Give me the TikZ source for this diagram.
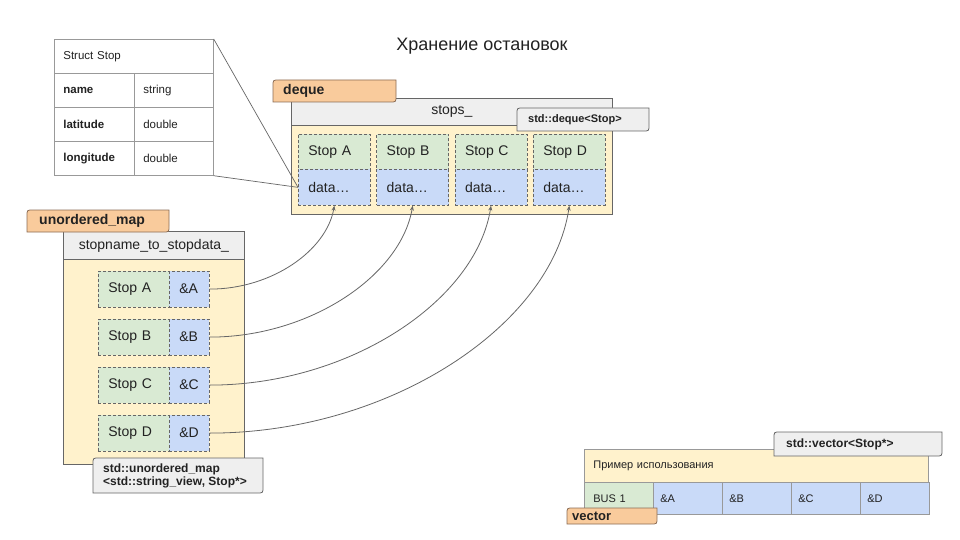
\documentclass[tikz,border=0pt]{standalone}
\usepackage{fontspec}
\setmainfont{Liberation Sans}
\usetikzlibrary{arrows.meta,calc}
\definecolor{cOrange}{HTML}{F9CB9C}
\definecolor{cOrangeB}{HTML}{8C6D55}
\definecolor{cGray}{HTML}{EFEFEF}
\definecolor{cYellow}{HTML}{FFF2CC}
\definecolor{cGreen}{HTML}{D9EAD3}
\definecolor{cBlue}{HTML}{C9DAF8}
\definecolor{cLine}{HTML}{666666}
\definecolor{cLight}{HTML}{999999}
\definecolor{cText}{HTML}{222222}
\newcommand\fsz[1]{\fontsize{#1}{#1}\selectfont}
\newcommand\dlabel[8]{%
  \path[#6] (#2,#5) -- (#2,#3+6) .. controls (#2,#3) .. (#2+6,#3) -- (#4,#3) -- (#4,#5-6) .. controls (#4,#5) .. (#4-6,#5) -- cycle;
  \node[anchor=west, inner sep=0pt, text=cText, #7] (#1) at (#2, {(#3+#5)/2}) {#8};
}
\tikzset{
  box/.style={anchor=north west, inner ysep=0pt, text=cText},
  lcell/.style={box, inner xsep=10pt, align=left},
  dashcell/.style={draw=cLine, line width=0.7pt, dash pattern=on 3pt off 2pt},
  tcell/.style={box, draw=cLight, line width=0.7pt, inner xsep=9pt, align=left, font=\fsz{11.5}},
  vcell/.style={box, draw=cLight, line width=0.7pt, align=left, font=\fsz{11}},
  orangelbl/.style={fill=cOrange, draw=cOrangeB, line width=0.8pt},
  graylbl/.style={fill=cGray, draw=cLine, line width=0.8pt},
  conn/.style={draw=cLine, line width=0.8pt, -{Stealth[length=5pt,width=4pt]}},
}
\begin{document}
\begin{tikzpicture}[x=1pt,y=-1pt]
\useasboundingbox[fill=white] (0,0) rectangle (960,540);

% title
\node[text=cText, font=\fsz{18}] (title) at (482,46) {Хранение остановок};

% ---------- deque ----------
\node[box, draw=cLine, fill=cGray, line width=0.8pt, minimum width=321pt, minimum height=27pt, inner xsep=0pt, font=\fsz{14}] (stopshdr) at (291,98) {};
\node[text=cText, font=\fsz{14}] at (stopshdr.center) (stopstxt) {stops\_};
\node[box, draw=cLine, fill=cYellow, line width=0.8pt, minimum width=321pt, minimum height=89pt] (stopsbody) at (291,125) {};
\dlabel{dequelbl}{273}{80}{396}{102}{orangelbl}{xshift=10pt, font=\bfseries\fsz{14}}{deque}
\dlabel{dequetype}{517}{108}{649}{131}{graylbl}{xshift=11pt, font=\bfseries\fsz{11}}{std::deque<Stop>}

\foreach \l [count=\i from 0] in {A,B,C,D} {
  \node[lcell, dashcell, fill=cGreen, text width=52pt, minimum height=35pt, font=\fsz{14}] (s\l) at ({298+78.33*\i},134) {Stop \l};
  \node[lcell, dashcell, fill=cBlue, text width=52pt, minimum height=36pt, font=\fsz{14}] (d\l) at ({298+78.33*\i},169) {data…};
}

% ---------- struct table ----------
\node[tcell, text width=141pt, minimum height=34pt, inner xsep=9pt] (structhdr) at (54,39) {Struct Stop};
\foreach \f/\t [count=\i from 0] in {name/string,latitude/double,longitude/double} {
  \node[tcell, text width=62pt, minimum height=34pt, font=\bfseries\fsz{11.5}] (fn\i) at (54,{73+34*\i}) {\f};
  \node[tcell, text width=61pt, minimum height=34pt] (ft\i) at (134,{73+34*\i}) {\t};
}
\draw[draw=cLine, line width=0.7pt] (structhdr.north east) -- (dA.west);
\draw[draw=cLine, line width=0.7pt] (ft2.south east) -- (dA.west);

% ---------- unordered_map ----------
\node[box, draw=cLine, fill=cGray, line width=0.8pt, minimum width=181pt, minimum height=28pt] (maphdr) at (63,231) {};
\node[text=cText, font=\fsz{14}] at (maphdr.center) (maptxt) {stopname\_to\_stopdata\_};
\node[box, draw=cLine, fill=cYellow, line width=0.8pt, minimum width=181pt, minimum height=205pt] (mapbody) at (63,259) {};
\dlabel{maplbl}{27}{210}{169}{232}{orangelbl}{xshift=12pt, font=\bfseries\fsz{14}}{unordered\_map}

\foreach \l [count=\i from 0] in {A,B,C,D} {
  \node[lcell, dashcell, fill=cGreen, text width=51pt, minimum height=35.5pt, font=\fsz{14}] (k\l) at (98,{271+48*\i}) {Stop \l};
  \node[lcell, dashcell, fill=cBlue, text width=20pt, minimum height=35.5pt, font=\fsz{14}] (r\l) at (169,{271+48*\i}) {\&\l};
}
\path[graylbl] (93,493) -- (93,464) .. controls (93,458) .. (99,458) -- (263,458) -- (263,487) .. controls (263,493) .. (257,493) -- cycle;
\node[anchor=west, text=cText, inner sep=0pt, align=left, font=\bfseries\fsz{12}] (maptype) at (103,475.5) {std::unordered\_map\\[1pt]<std::string\_view, Stop*>};

% ---------- connectors ----------
\draw[conn] (rA.east) .. controls +(62,0) and +(-8,45) .. (dA.south);
\draw[conn] (rB.east) .. controls +(100,0) and +(-12,70) .. (dB.south);
\draw[conn] (rC.east) .. controls +(140,0) and +(-15,95) .. (dC.south);
\draw[conn] (rD.east) .. controls +(180,0) and +(-18,120) .. (dD.south);

% ---------- vector ----------
\node[vcell, fill=cYellow, text width=326pt, inner xsep=9pt, minimum height=33pt] (vrow) at (584,449) {Пример использования};
\node[vcell, fill=cGreen, text width=51pt, inner xsep=9pt, minimum height=32pt] (bus) at (584,482) {BUS 1};
\foreach \l [count=\i from 0] in {A,B,C,D} {
  \node[vcell, fill=cBlue, text width=55pt, inner xsep=7pt, minimum height=32pt] (v\l) at ({653+69*\i},482) {\&\l};
}
\dlabel{vectype}{774}{432}{942}{456}{graylbl}{xshift=12pt, font=\bfseries\fsz{12}}{std::vector<Stop*>}
\dlabel{veclbl}{567}{508}{657}{524}{orangelbl}{xshift=5pt, font=\bfseries\fsz{13}}{vector}
\end{tikzpicture}
\end{document}
